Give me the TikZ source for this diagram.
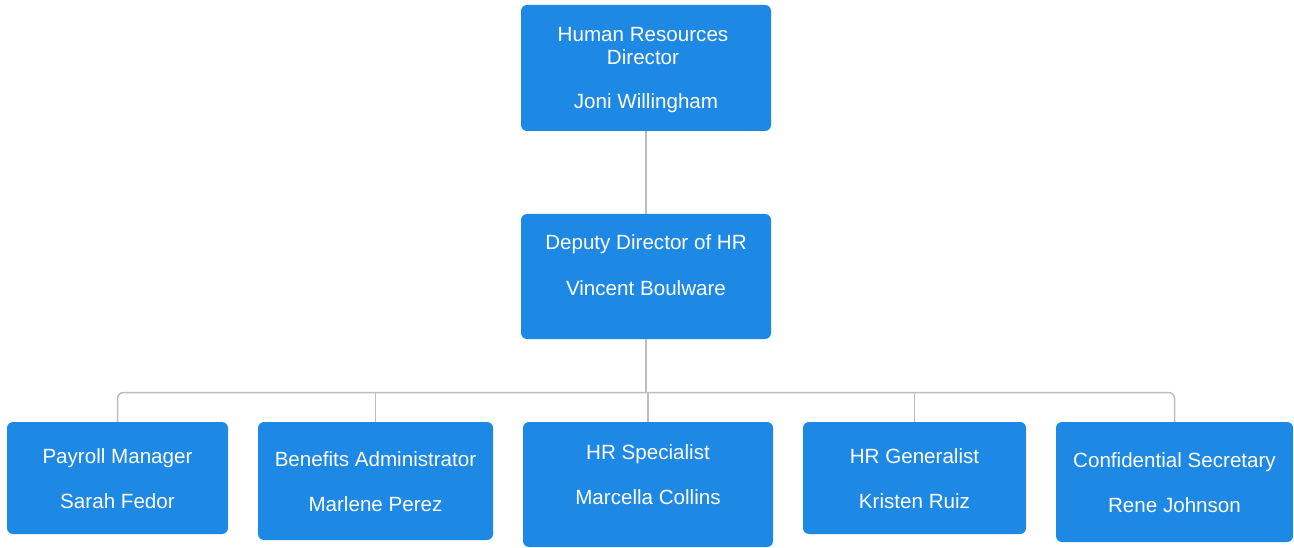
\documentclass[tikz,border=0pt]{standalone}
\usepackage{fontspec}
\setmainfont{Liberation Sans}
\definecolor{boxblue}{HTML}{1E88E5}
\definecolor{linegrey}{HTML}{BDBDBD}
\begin{document}
\begin{tikzpicture}[x=1pt,y=-1pt,
  box/.style={draw=none,fill=boxblue,rounded corners=6pt,inner sep=0pt},
  txt/.style={text=white,font=\fontsize{20.6}{23}\selectfont,anchor=base,inner sep=0pt},
  conn/.style={draw=linegrey,line width=1.5pt}]
\useasboundingbox (0,0) rectangle (1294,548);
\node[box,minimum width=250pt,minimum height=126pt] (hr) at (646,68) {};
\node[box,minimum width=250pt,minimum height=125pt] (dep) at (646,276.5) {};
\node[box,minimum width=221pt,minimum height=112pt] (pay) at (117.5,478) {};
\node[box,minimum width=235pt,minimum height=118pt] (ben) at (375.5,481) {};
\node[box,minimum width=250pt,minimum height=125pt] (spec) at (648,484.5) {};
\node[box,minimum width=223pt,minimum height=112pt] (gen) at (914.5,478) {};
\node[box,minimum width=237pt,minimum height=120pt] (conf) at (1174.5,482) {};
% texts
\node[txt] (t1a) at (643,42) {Human Resources};
\node[txt] (t1b) at (643,65) {Director};
\node[txt] (t1c) at (646,109) {Joni Willingham};
\node[txt] (t2a) at (646,250) {Deputy Director of HR};
\node[txt] (t2b) at (646,295) {Vincent Boulware};
\node[txt] (t3a) at (117.5,463) {Payroll Manager};
\node[txt] (t3b) at (117.5,508) {Sarah Fedor};
\node[txt] (t4a) at (375.5,466) {Benefits Administrator};
\node[txt] (t4b) at (375.5,511) {Marlene Perez};
\node[txt] (t5a) at (648,459) {HR Specialist};
\node[txt] (t5b) at (648,504) {Marcella Collins};
\node[txt] (t6a) at (914.5,463) {HR Generalist};
\node[txt] (t6b) at (914.5,508) {Kristen Ruiz};
\node[txt] (t7a) at (1174.5,467) {Confidential Secretary};
\node[txt] (t7b) at (1174.5,512) {Rene Johnson};
% connectors
\coordinate (bus) at (646,392.5);
\draw[conn] (hr.south) -- (dep.north);
\draw[conn] (dep.south) -- (dep.south |- bus);
\draw[conn,rounded corners=6pt] (pay.north) |- (conf.north |- bus) -- (conf.north);
\draw[conn] (ben.north |- bus) -- (ben.north);
\draw[conn] (spec.north |- bus) -- (spec.north);
\draw[conn] (gen.north |- bus) -- (gen.north);
\end{tikzpicture}
\end{document}
